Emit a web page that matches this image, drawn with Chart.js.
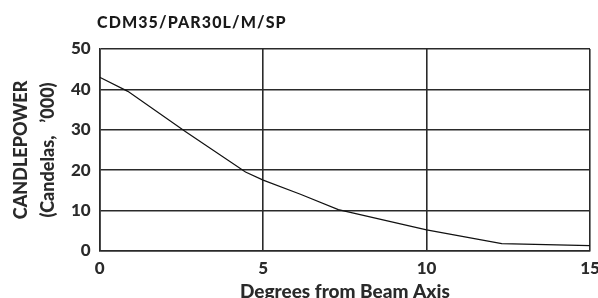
<!DOCTYPE html>
<html>
<head>
<meta charset="utf-8">
<script src="https://cdn.jsdelivr.net/npm/chart.js@4"></script>
<style>
  body { margin: 0; background: #fff; overflow: hidden; }
  #wrap { position: relative; width: 598px; height: 298px; }
  #title {
    position: absolute; left: 97px; top: 12px;
    font: 900 16px Lato, "DejaVu Sans", sans-serif; letter-spacing: 1.1px; color: #1a1a1a;
  }
  canvas { display: block; }
</style>
</head>
<body>
<div id="wrap">
  <div id="title">CDM35/PAR30L/M/SP</div>
  <canvas id="chart" width="598" height="298"></canvas>
</div>
<script>
// curve: degrees from beam axis vs candelas ('000)
const degrees = [0, 0.86, 2.63, 4.46, 5, 6.14, 7.3, 10, 12.3, 15];
const candlepower = [43, 39.5, 29.5, 19.5, 17.5, 14, 10.2, 5.2, 1.8, 1.3];
const xTicks = [0, 5, 10, 15];
const yTicks = [0, 10, 20, 30, 40, 50];

const ink = "#2a2a2a";
const fam = "Lato, 'DejaVu Sans', sans-serif";
const tickFont = { family: fam, size: 17, weight: "900" };

const ctx = document.getElementById("chart").getContext("2d");
new Chart(ctx, {
  type: "line",
  data: {
    datasets: [{
      data: degrees.map((d, i) => ({ x: d, y: candlepower[i] })),
      borderColor: "#111",
      borderWidth: 1.2,
      pointRadius: 0,
      tension: 0,
      fill: false,
    }],
  },
  options: {
    responsive: false,
    animation: false,
    layout: { padding: { top: 49, right: 0, bottom: -5, left: 8 } },
    plugins: { legend: { display: false }, tooltip: { enabled: false } },
    scales: {
      x: {
        type: "linear",
        min: 0,
        max: 15,
        afterBuildTicks: (s) => { s.ticks = xTicks.map((v) => ({ value: v })); },
        // keep the tick padding from widening the right margin
        afterFit: (s) => { s.paddingRight = 8; },
        ticks: { color: ink, font: tickFont, padding: 8, maxRotation: 0 },
        grid: { color: ink, lineWidth: 1.6, drawTicks: false },
        border: { color: ink, width: 1.6 },
        title: {
          display: true,
          text: "Degrees from Beam Axis",
          color: ink,
          font: { family: fam, size: 19, weight: "900" },
          padding: { top: -7, bottom: 0 },
        },
      },
      y: {
        min: 0,
        max: 50,
        afterBuildTicks: (s) => { s.ticks = yTicks.map((v) => ({ value: v })); },
        ticks: { color: ink, font: tickFont, padding: 9 },
        grid: { color: ink, lineWidth: 1.6, drawTicks: false },
        border: { color: ink, width: 1.6 },
        title: {
          display: true,
          text: ["CANDLEPOWER", "(Candelas,   \u2019000)"],
          color: ink,
          font: { family: fam, size: 18, weight: "900", lineHeight: 1.5 },
          padding: { top: 0, bottom: 0 },
        },
      },
    },
  },
});
</script>
</body>
</html>
